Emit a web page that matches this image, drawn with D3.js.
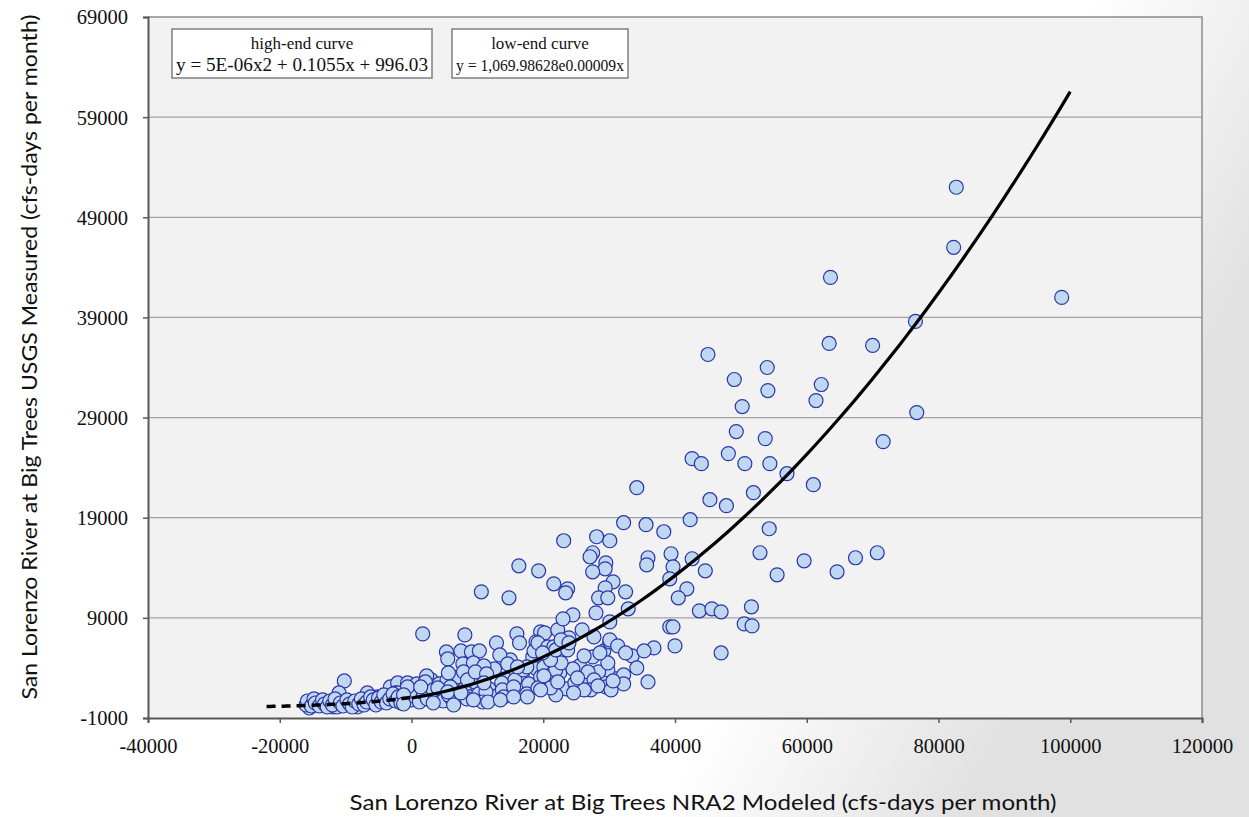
<!DOCTYPE html>
<html>
<head>
<meta charset="utf-8">
<script src="https://cdn.jsdelivr.net/npm/d3@7"></script>
<style>
  html, body { margin: 0; padding: 0; background: #fff; }
  svg { display: block; }
</style>
</head>
<body>
<svg id="chart" width="1249" height="817"></svg>
<script>
// Axis ticks
const xTicks = [-40000, -20000, 0, 20000, 40000, 60000, 80000, 100000, 120000];
const yTicks = [-1000, 9000, 19000, 29000, 39000, 49000, 59000, 69000];

// Trend curves: quadratic (high-end) and exponential (low-end)
const highEndCoef = { a: 5e-6, b: 0.1055, c: 996.03 };
const highEndRange = [0, 100000];
const lowEndCoef = { k: 1069.98628, r: 0.00009 };
const lowEndRange = [-22000, 0];

// Monthly flows: [NRA2 modeled, USGS measured] (cfs-days per month)
const highFlowMonths = [
  [82700,52000],[82300,46000],[63600,43000],[98700,41000],[76500,38600],[63400,36400],[70000,36200],
  [45000,35300],[54000,34000],[49000,32800],[62200,32300],[54100,31700],[61400,30700],[50200,30100],
  [76700,29500],[49300,27600],[53700,26900],[71600,26600],[42600,24900],[44000,24400],[48100,25400],
  [50600,24400],[54400,24400],[57000,23400],[61000,22300],[34200,22000],[51900,21500],[45300,20800],
  [47800,20200],[42300,18800],[32200,18500],[35600,18300],[38300,17600],[54300,17900],[23100,16700],
  [28100,17100],[30100,16700],[27500,15500],[27100,15100],[35900,15000],[35700,14300],[39400,15400],
  [42600,14900],[52900,15500],[59600,14700],[67400,15000],[70700,15500],[29500,14500],[29400,13900],
  [27500,13600],[39700,14100],[44600,13700],[39200,12900],[55500,13300],[64600,13600],[16300,14200],
  [19300,13700],[21600,12400],[23700,11900],[23400,11500],[30600,12600],[29400,12000],[32500,11600],
  [41800,11900],[10600,11600],[14800,11000],[28400,11000],[29800,11000],[40500,11000],[32900,9900],
  [43700,9700],[45600,9900],[47000,9600],[51600,10100],[28000,9500],[24500,9300],[23000,8900],
  [30100,8600],[50500,8400],[51700,8200],[39200,8100],[39700,8100],[25900,7800],[30100,6800],
  [31300,6200],[40000,6200],[36800,6000],[35300,5700],[32500,5500],[47000,5500],[26200,5200],
  [28600,5500],[34200,4000],[35900,2600],[32200,3300],[32200,2400],[30600,2700]
];
const midFlowMonths = [
  [1700,7400],[8100,7300],[12900,6500],[16000,7400],[16400,6500],[19600,7600],[20200,7500],[18900,6600],
  [22200,7800],[5300,5600],[5500,4900],[7500,5700],[9100,5600],[10300,5700],[13400,5300],[14600,4400],
  [18600,5700],[19200,6500],[20700,6100],[21600,5100],[7800,4400],[9400,4500],[11000,4200],[5600,3500],
  [2300,3200],[2100,2600],[7900,3600],[8500,2800],[9700,3600],[11400,3400],[13700,2500],[15700,2800],
  [17000,3800],[17500,4100],[19600,3100],[20100,4100],[21600,3600],[-600,2100],[-1200,1300],[3300,1800],
  [5600,1300],[8400,900],[11300,1600],[13800,1800],[15500,2100],[17500,1400],[19200,2000],[21900,1300],
  [-1200,400],[3300,500],[6400,300],[10800,600],[14000,1100],[5900,2100],[11000,2500],
  [30100,6600],[21600,6100],[29800,3800],[28400,3600],[26800,3600],[24500,3900],[21900,3800],[20100,3200],
  [27700,2800],[27200,1800],[26200,1800],[24600,1500],[29500,2100],[25200,3000],[22700,4500],[21100,2000],
  [23900,7000],[27700,7100],[22200,2600],[28300,2200],[21100,4800],[21900,5800],[23700,5800],[27500,5100],
  [29800,4500],[16100,4100],[19900,5500],[22700,6800],[23900,6500],[30300,1800],
  [1400,2100],[4000,2000],[5500,1600],[7500,1500],[9400,800],[11600,600],[13500,800],[15500,1100],
  [17600,1100],[19600,1800]
];
const lowFlowMonths = [
  [-10200,2700],[-11000,1500],[-15400,600],[-15500,0],[-14300,300],[-11900,100],[-6700,1500],[-5200,1100],
  [-3200,2100],[-2100,2500],[-600,2500],[-2400,1500],[-13800,600],[-11300,100],[-8200,100],[-5800,500],
  [-3700,1100],[-2100,1500],
  [-16000,300],[-15800,700],[-15200,200],[-14800,900],[-14600,500],[-14000,200],[-13500,800],[-13200,400],
  [-12800,100],[-12400,700],[-12000,300],[-11600,900],[-10800,500],[-10400,200],[-9800,800],[-9400,400],
  [-9000,100],[-8600,700],[-8000,400],[-7600,900],[-7200,300],[-6800,600],[-6200,1100],[-5800,800],
  [-5400,300],[-5000,1000],[-4600,600],[-4200,1300],[-3800,500],[-3300,900],[-2800,1400],[-2400,700],
  [-2000,1100],[-1600,500],[-800,900],[-400,1400],[0,800],[400,1200],[800,2400],[1200,600],[1800,1500],
  [2400,900],[3000,2800],[3600,1200],[4200,2400],[4800,700],[5400,2800],[6000,1000],[6600,2300],
  [7200,3100],[8000,1900],[8800,1100],[9600,2600],[10200,1400],[11000,3000],[11800,1900],[12600,3900],
  [13200,1300],[14200,2900],[15000,4800],[16800,3300],[17800,2400],[18400,5100],[19000,3900],[21000,2800],
  [22500,3500],[23500,1900],[24800,2500],[25500,4200],[26500,3100],[28800,2800],[29200,5700],[31000,2900],
  [33500,5200]
];

const legendItems = [
  { title: "high-end curve", eq: "y = 5E-06x2 + 0.1055x + 996.03" },
  { title: "low-end curve", eq: "y = 1,069.98628e0.00009x" }
];

const xTitle = "San Lorenzo River at Big Trees NRA2 Modeled (cfs-days per month)";
const yTitle = "San Lorenzo River at Big Trees USGS Measured (cfs-days per month)";

// ---- drawing ----
const svg = d3.select("#chart");
const W = 1249, H = 817;
const plot = { left: 148, right: 1202, top: 17, bottom: 718 };

// slide-style background: white fading to light grey at the right edge
const defs = svg.append("defs");
const bg = defs.append("linearGradient").attr("id", "bgGrad")
  .attr("x1", "0").attr("y1", "0").attr("x2", "1").attr("y2", "0.35");
bg.append("stop").attr("offset", "0.78").attr("stop-color", "#ffffff");
bg.append("stop").attr("offset", "1").attr("stop-color", "#e1e1e1");
svg.append("rect").attr("width", W).attr("height", H).attr("fill", "url(#bgGrad)");

const x = d3.scaleLinear().domain([-40000, 120000]).range([plot.left, plot.right]);
const y = d3.scaleLinear().domain([-1000, 69000]).range([plot.bottom, plot.top]);

// plot area
svg.append("rect")
  .attr("x", plot.left).attr("y", plot.top)
  .attr("width", plot.right - plot.left).attr("height", plot.bottom - plot.top)
  .attr("fill", "#f2f2f2");

// horizontal gridlines
svg.append("g").selectAll("line").data(yTicks.slice(1, -1)).join("line")
  .attr("x1", plot.left).attr("x2", plot.right)
  .attr("y1", d => y(d)).attr("y2", d => y(d))
  .attr("stroke", "#a3a3a3").attr("stroke-width", 1.3);

// frame (top and right)
svg.append("path")
  .attr("d", `M${plot.left},${plot.top}H${plot.right}V${plot.bottom}`)
  .attr("fill", "none").attr("stroke", "#8c8c8c").attr("stroke-width", 1.5);

// axes (plain hyphen for negative numbers)
const plainNum = d => String(d);
const xAxis = d3.axisBottom(x).tickValues(xTicks).tickSize(5).tickFormat(plainNum);
const yAxis = d3.axisLeft(y).tickValues(yTicks).tickSize(5).tickFormat(plainNum);

const gx = svg.append("g").attr("transform", `translate(0,${plot.bottom})`).call(xAxis);
const gy = svg.append("g").attr("transform", `translate(${plot.left},0)`).call(yAxis);

[gx, gy].forEach(g => {
  g.select(".domain").attr("stroke", "#595959").attr("stroke-width", 2);
  g.selectAll(".tick line").attr("stroke", "#595959").attr("stroke-width", 1.5);
  g.selectAll(".tick text")
    .attr("font-family", "'Liberation Serif', 'Times New Roman', serif")
    .attr("font-size", 20.5).attr("fill", "#111");
});
gx.selectAll(".tick text").attr("dy", null).attr("y", 35);
gy.selectAll(".tick text").attr("x", -20).attr("dy", "0.34em");

// scatter points
const allMonths = lowFlowMonths.concat(midFlowMonths, highFlowMonths);
svg.append("g").selectAll("circle").data(allMonths).join("circle")
  .attr("cx", d => x(d[0])).attr("cy", d => y(d[1]))
  .attr("r", 7)
  .attr("fill", "#bfd7f0").attr("stroke", "#2b36a6").attr("stroke-width", 1.2);

// trend curves
const line = d3.line().x(d => x(d[0])).y(d => y(d[1])).curve(d3.curveLinear);
const highFn = v => highEndCoef.a * v * v + highEndCoef.b * v + highEndCoef.c;
const lowFn = v => lowEndCoef.k * Math.exp(lowEndCoef.r * v);
const highPts = d3.range(highEndRange[0], highEndRange[1] + 1, 1000).map(v => [v, highFn(v)]);
const lowPts = d3.range(lowEndRange[0], lowEndRange[1] + 1, 500).map(v => [v, lowFn(v)]);

svg.append("path").attr("d", line(lowPts))
  .attr("fill", "none").attr("stroke", "#000").attr("stroke-width", 3.5)
  .attr("stroke-dasharray", "9,6");
svg.append("path").attr("d", line(highPts))
  .attr("fill", "none").attr("stroke", "#000").attr("stroke-width", 3.2)
  .attr("stroke-linejoin", "round");

// equation boxes
const boxes = [
  { x: 172, w: 260, eqLen: 252, eqSize: 18 },
  { x: 452, w: 176, eqLen: 168, eqSize: 16.5 }
];
const serif = "'Liberation Serif', 'Times New Roman', serif";
const lg = svg.append("g");
legendItems.forEach((it, i) => {
  const b = boxes[i];
  const g = lg.append("g");
  g.append("rect").attr("x", b.x).attr("y", 29).attr("width", b.w).attr("height", 49)
    .attr("fill", "#fff").attr("stroke", "#7f7f7f").attr("stroke-width", 1.5);
  g.append("text").attr("x", b.x + b.w / 2).attr("y", 49)
    .attr("text-anchor", "middle")
    .attr("font-family", serif)
    .attr("font-size", 17).attr("fill", "#111").text(it.title);
  g.append("text").attr("x", b.x + b.w / 2).attr("y", 71)
    .attr("text-anchor", "middle")
    .attr("font-family", serif)
    .attr("font-size", b.eqSize).attr("fill", "#111")
    .attr("textLength", b.eqLen).attr("lengthAdjust", "spacingAndGlyphs")
    .text(it.eq);
});

// axis titles
svg.append("text")
  .attr("x", 703).attr("y", 810).attr("text-anchor", "middle")
  .attr("font-family", "Lato, 'Open Sans', sans-serif").attr("font-size", 22)
  .attr("textLength", 707).attr("lengthAdjust", "spacingAndGlyphs")
  .attr("fill", "#111").text(xTitle);

svg.append("text")
  .attr("transform", "translate(37,357) rotate(-90)")
  .attr("text-anchor", "middle")
  .attr("font-family", "Lato, 'Open Sans', sans-serif").attr("font-size", 22)
  .attr("textLength", 685).attr("lengthAdjust", "spacingAndGlyphs")
  .attr("fill", "#111").text(yTitle);
</script>
</body>
</html>
